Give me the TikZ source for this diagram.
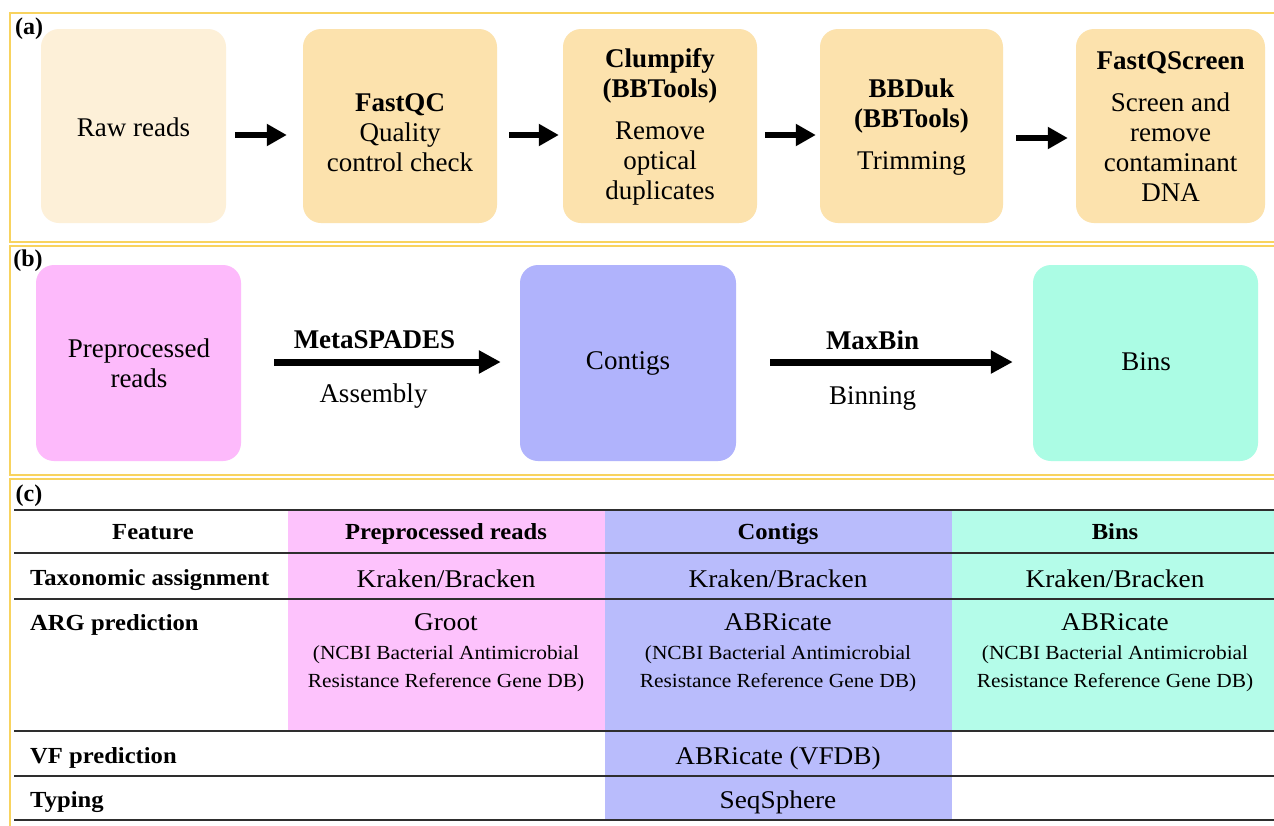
\documentclass[tikz,border=0pt]{standalone}
\usepackage{fontspec}
\setmainfont{Liberation Serif}
\newfontfamily\tabfont[FakeStretch=1.07]{Liberation Serif}
\usetikzlibrary{arrows.meta}
\definecolor{panelc}{HTML}{F8D35E}
\definecolor{rawc}{HTML}{FDF0D8}
\definecolor{stepc}{HTML}{FCE2AD}
\definecolor{pinkc}{HTML}{FDBAFB}
\definecolor{bluec}{HTML}{B0B3FC}
\definecolor{mintc}{HTML}{ABFCE4}
\definecolor{tpink}{HTML}{FDC2FC}
\definecolor{tblue}{HTML}{B9BCFC}
\definecolor{tmint}{HTML}{B4FCE9}
\definecolor{rulec}{HTML}{2E2E2E}
\tikzset{
  pbox/.style={rounded corners=18pt, inner sep=0pt, draw=none},
  ptext/.style={font=\fontsize{27}{30}\selectfont, align=center, inner sep=0pt},
  plabel/.style={font=\fontsize{24}{26}\selectfont\bfseries, inner sep=0pt},
  panel/.style={draw=panelc, line width=2.5pt},
  arrA/.style={line width=6.5pt, -{Triangle[length=20pt,width=21pt]}},
  arrB/.style={line width=7pt, -{Triangle[length=22pt,width=22pt]}},
  tbold/.style={font=\tabfont\fontsize{23}{26}\selectfont\bfseries, inner sep=0pt, anchor=base},
  tcell/.style={font=\tabfont\fontsize{25.5}{28}\selectfont, inner sep=0pt, align=center},
  trule/.style={draw=rulec, line width=2pt},
}
\begin{document}
\begin{tikzpicture}[x=1pt,y=-1pt]
\useasboundingbox (0,0) rectangle (1274,825);
\clip (0,0) rectangle (1274,825);
\fill[white] (0,0) rectangle (1274,825);

% ---------- panels ----------
\draw[panel] (10,13) rectangle (1300,242);
\draw[panel] (10,246) rectangle (1300,475);
\draw[panel] (10,479) rectangle (1300,860);

\node[plabel] (la) at (29,29) {(a)};
\node[plabel] (lb) at (28,261) {(b)};
\node[plabel] (lc) at (29,496) {(c)};

% ---------- panel (a) ----------
\node[pbox, fill=rawc, minimum width=185pt, minimum height=194pt] (raw) at (133.5,126) {};
\node[pbox, fill=stepc, minimum width=194pt, minimum height=194pt] (fqc) at (400,126) {};
\node[pbox, fill=stepc, minimum width=194pt, minimum height=194pt] (clp) at (660,126) {};
\node[pbox, fill=stepc, minimum width=183pt, minimum height=194pt] (bbd) at (911.5,126) {};
\node[pbox, fill=stepc, minimum width=189pt, minimum height=194pt] (fqs) at (1170.5,126) {};

\node[ptext] (rawt) at (133.5,127) {Raw reads};
\node[ptext] (fqct) at (400,133) {\textbf{FastQC}\\Quality\\control check};
\node[ptext] (clpt) at (660,127) {\textbf{Clumpify}\\\textbf{(BBTools)}\\[12pt]Remove\\optical\\duplicates};
\node[ptext] (bbdt) at (911.5,127) {\textbf{BBDuk}\\\textbf{(BBTools)}\\[12pt]Trimming};
\node[ptext] (fqst) at (1170.5,127) {\textbf{FastQScreen}\\[12pt]Screen and\\remove\\contaminant\\DNA};

\draw[arrA, shorten <=9pt, shorten >=16pt] ([shift={(0,9)}]raw.east) -- ([shift={(0,9)}]fqc.west);
\draw[arrA, shorten <=12pt, shorten >=4pt] ([shift={(0,9)}]fqc.east) -- ([shift={(0,9)}]clp.west);
\draw[arrA, shorten <=8pt, shorten >=4pt] ([shift={(0,9)}]clp.east) -- ([shift={(0,9)}]bbd.west);
\draw[arrA, shorten <=13pt, shorten >=8pt] ([shift={(0,12)}]bbd.east) -- ([shift={(0,12)}]fqs.west);

% ---------- panel (b) ----------
\node[pbox, fill=pinkc, minimum width=205pt, minimum height=196pt] (pre) at (138.5,363) {};
\node[pbox, fill=bluec, minimum width=216pt, minimum height=196pt] (con) at (628,363) {};
\node[pbox, fill=mintc, minimum width=225pt, minimum height=196pt] (bin) at (1145.5,363) {};

\node[ptext] (pret) at (139,363) {Preprocessed\\reads};
\node[ptext] (cont) at (628,363) {Contigs};
\node[ptext] (bint) at (1146,362) {Bins};

\draw[arrB, shorten <=33pt, shorten >=19pt] ([shift={(0,-1)}]pre.east) -- ([shift={(0,-1)}]con.west)
  node[midway, ptext, font=\fontsize{27}{30}\selectfont\bfseries, shift={(-6,-22)}] (meta) {MetaSPADES}
  node[midway, ptext, shift={(-7,34)}] (asm) {Assembly};
\draw[arrB, shorten <=34pt, shorten >=20pt] ([shift={(0,-1)}]con.east) -- ([shift={(0,-1)}]bin.west)
  node[midway, ptext, font=\fontsize{27}{30}\selectfont\bfseries, shift={(-12,-22)}] (maxb) {MaxBin}
  node[midway, ptext, shift={(-12,36)}] (binn) {Binning};

% ---------- panel (c) table ----------
\fill[tpink] (288,510) rectangle (605,731);
\fill[tblue] (605,510) rectangle (952,820);
\fill[tmint] (952,510) rectangle (1300,731);
\foreach \yy in {510,553,599,731,776,820} \draw[trule] (14,\yy) -- (1300,\yy);

\node[tbold] (hf) at (153,539) {Feature};
\node[tbold] (hp) at (446,539) {Preprocessed reads};
\node[tbold] (hc) at (778,539) {Contigs};
\node[tbold] (hb) at (1115,539) {Bins};

\node[tbold, anchor=base west] (r1) at (30,585) {Taxonomic assignment};
\node[tcell, anchor=base] (r1p) at (446,587) {Kraken/Bracken};
\node[tcell, anchor=base] (r1c) at (778,587) {Kraken/Bracken};
\node[tcell, anchor=base] (r1b) at (1115,587) {Kraken/Bracken};

\node[tbold, anchor=base west] (r2) at (30,630) {ARG prediction};
\node[tcell, anchor=north] (r2p) at (446,613) {Groot\\[1pt]{\fontsize{20}{25}\selectfont (NCBI Bacterial Antimicrobial}\\{\fontsize{20}{25}\selectfont Resistance Reference Gene DB)}};
\node[tcell, anchor=north] (r2c) at (778,613) {ABRicate\\[1pt]{\fontsize{20}{25}\selectfont (NCBI Bacterial Antimicrobial}\\{\fontsize{20}{25}\selectfont Resistance Reference Gene DB)}};
\node[tcell, anchor=north] (r2b) at (1115,613) {ABRicate\\[1pt]{\fontsize{20}{25}\selectfont (NCBI Bacterial Antimicrobial}\\{\fontsize{20}{25}\selectfont Resistance Reference Gene DB)}};

\node[tbold, anchor=base west] (r3) at (30,763) {VF prediction};
\node[tcell, anchor=base] (r3c) at (778,764) {ABRicate (VFDB)};

\node[tbold, anchor=base west] (r4) at (30,807) {Typing};
\node[tcell, anchor=base] (r4c) at (778,808) {SeqSphere};
\end{tikzpicture}
\end{document}
